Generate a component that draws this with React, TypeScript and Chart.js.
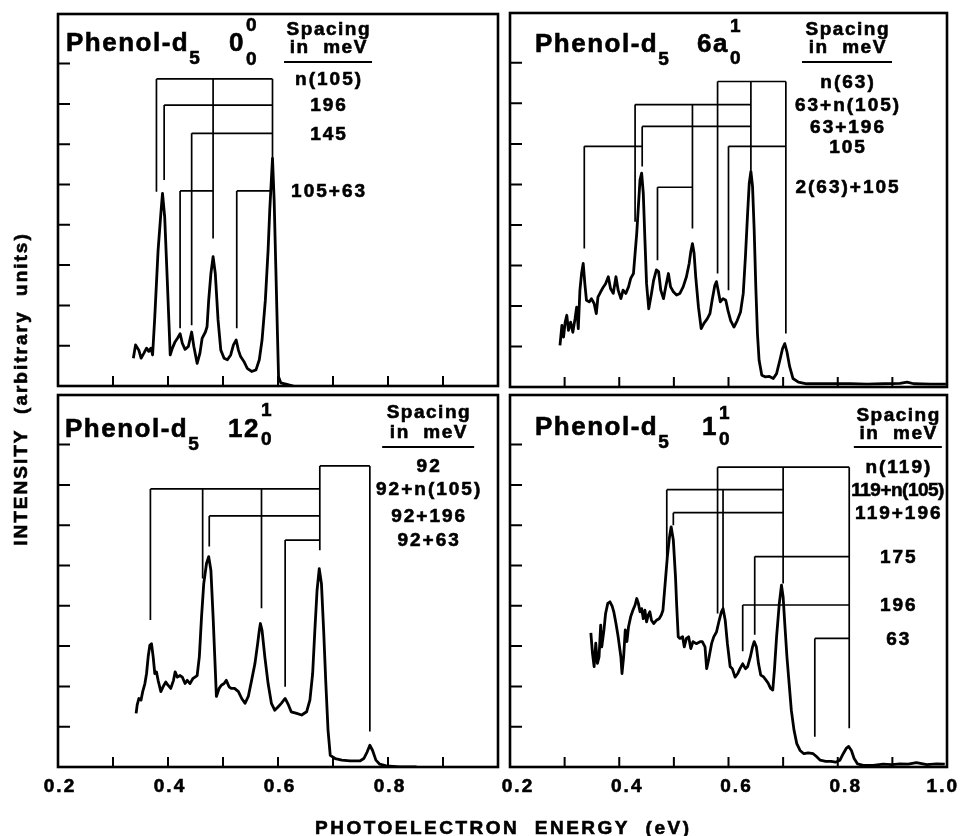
import React, { useEffect, useRef } from "react";
import { Chart, registerables } from "chart.js";

Chart.register(...registerables);

// ---------------- data ----------------
const xTickValues = [0.3, 0.4, 0.5, 0.6, 0.7, 0.8, 0.9];
const yTickValues = [1, 2, 3, 4, 5, 6, 7, 8];
const xLabelValuesLeft = [0.2, 0.4, 0.6, 0.8];
const xLabelTextsLeft = ["0.2", "0.4", "0.6", "0.8"];
const xLabelValuesRight = [0.2, 0.4, 0.6, 0.8, 1.0];
const xLabelTextsRight = ["0.2", "0.4", "0.6", "0.8", "1.0"];

// Panel 0-0-0
const tlEnergy = [
  0.337, 0.341, 0.347, 0.351, 0.356, 0.361, 0.365, 0.369, 0.372, 0.376,
  0.382, 0.387, 0.39, 0.394, 0.399, 0.404, 0.408, 0.413, 0.417, 0.422,
  0.426, 0.431, 0.437, 0.443, 0.447, 0.453, 0.458, 0.462, 0.468, 0.471,
  0.474, 0.478, 0.482, 0.486, 0.491, 0.496, 0.502, 0.508, 0.514, 0.519,
  0.524, 0.528, 0.532, 0.538, 0.544, 0.552, 0.56, 0.566, 0.571, 0.577,
  0.582, 0.585, 0.59, 0.593, 0.596, 0.599, 0.601, 0.605, 0.616, 0.628,
];
const tlIntensity = [
  0.69, 1.02, 0.89, 0.69, 0.81, 0.94, 0.86, 0.94, 0.77, 1.72,
  3.37, 4.28, 4.78, 4.19, 2.52, 0.77, 0.94, 1.1, 1.18, 1.3,
  1.06, 0.91, 0.98, 1.34, 0.98, 0.56, 0.81, 1.18, 1.34, 1.47,
  2.13, 2.79, 3.21, 2.79, 1.64, 0.89, 0.69, 0.65, 0.77, 1.02,
  1.14, 0.89, 0.73, 0.61, 0.44, 0.36, 0.4, 0.65, 1.14, 2.13,
  3.37, 4.36, 5.65, 4.61, 2.96, 1.3, 0.23, 0.08, 0.04, 0.0,
];
const tlBrackets: [number, number, number, [number, number][]][] = [
  [7.62, 0.379, 0.59, [[0.379, 4.82], [0.482, 3.66], [0.59, 5.6]]],
  [6.97, 0.393, 0.59, [[0.393, 5.11]]],
  [6.27, 0.443, 0.59, [[0.443, 1.51]]],
  [4.84, 0.422, 0.482, [[0.422, 1.43]]],
  [4.84, 0.525, 0.588, [[0.525, 1.43]]],
];
const tlSpacingLabels = ["n(105)", "196", "145", "105+63"];
const tlSpacingLevels = [7.62, 6.97, 6.27, 4.84];

// Panel 6a
const trEnergy = [
  0.2915, 0.295, 0.298, 0.301, 0.304, 0.307, 0.311, 0.315, 0.319, 0.322,
  0.325, 0.328, 0.331, 0.334, 0.337, 0.34, 0.345, 0.349, 0.354, 0.358,
  0.361, 0.366, 0.371, 0.375, 0.38, 0.384, 0.389, 0.394, 0.398, 0.403,
  0.407, 0.412, 0.417, 0.421, 0.426, 0.429, 0.432, 0.435, 0.438, 0.441,
  0.444, 0.447, 0.45, 0.454, 0.459, 0.463, 0.468, 0.472, 0.476, 0.481,
  0.485, 0.49, 0.494, 0.499, 0.505, 0.511, 0.517, 0.523, 0.528, 0.531,
  0.534, 0.537, 0.54, 0.545, 0.55, 0.555, 0.561, 0.566, 0.57, 0.575,
  0.578, 0.581, 0.585, 0.59, 0.595, 0.599, 0.604, 0.61, 0.616, 0.622,
  0.627, 0.631, 0.635, 0.638, 0.641, 0.644, 0.647, 0.65, 0.653, 0.656,
  0.661, 0.667, 0.675, 0.682, 0.688, 0.694, 0.699, 0.703, 0.707, 0.712,
  0.718, 0.728, 0.743, 0.768, 0.792, 0.823, 0.854, 0.884, 0.914, 0.927, 0.939,
  0.97, 0.998,
];
const trIntensity = [
  1.03, 1.52, 1.23, 1.6, 1.77, 1.4, 1.6, 1.35, 1.68, 1.97,
  1.44, 2.39, 2.8, 3.05, 2.55, 2.14, 2.1, 2.18, 2.06, 1.81,
  2.22, 2.35, 2.47, 2.55, 2.72, 2.43, 2.31, 2.72, 2.39, 2.18,
  2.39, 2.31, 2.47, 2.68, 2.8, 3.3, 3.79, 4.45, 5.11, 5.28,
  4.78, 3.63, 2.55, 1.93, 2.31, 2.64, 2.89, 2.85, 2.39, 2.18,
  2.47, 2.8, 2.47, 2.35, 2.27, 2.31, 2.47, 2.72, 3.05, 3.34,
  3.54, 3.3, 2.72, 1.97, 1.44, 1.57, 1.68, 1.81, 2.14, 2.51,
  2.6, 2.39, 2.1, 2.18, 2.14, 1.89, 1.64, 1.48, 1.64, 1.85,
  2.31, 3.22, 4.29, 5.03, 5.32, 4.95, 3.88, 2.47, 1.32, 0.66,
  0.29, 0.25, 0.26, 0.21, 0.33, 0.66, 0.95, 1.07, 0.87, 0.5,
  0.21, 0.12, 0.08, 0.08, 0.08, 0.08, 0.07, 0.08, 0.09, 0.12, 0.08,
  0.07, 0.07,
];
const trBrackets: [number, number, number, [number, number][]][] = [
  [7.54, 0.58, 0.705, [[0.58, 2.8], [0.641, 5.35], [0.705, 1.32]]],
  [6.97, 0.429, 0.641, [[0.429, 4.08], [0.534, 3.91]]],
  [6.43, 0.442, 0.641, [[0.442, 5.44]]],
  [5.94, 0.336, 0.442, [[0.336, 3.42]]],
  [5.94, 0.6, 0.705, [[0.6, 2.39]]],
  [4.93, 0.47, 0.534, [[0.47, 3.13]]],
];
const trSpacingLabels = ["n(63)", "63+n(105)", "63+196", "105", "2(63)+105"];
const trSpacingLevels = [7.54, 6.97, 6.43, 5.94, 4.93];

// Panel 12
const blEnergy = [
  0.342, 0.344, 0.347, 0.351, 0.354, 0.358, 0.361, 0.364, 0.367, 0.37,
  0.373, 0.376, 0.379, 0.382, 0.387, 0.391, 0.396, 0.4, 0.405, 0.41,
  0.413, 0.417, 0.422, 0.426, 0.431, 0.435, 0.44, 0.445, 0.449, 0.453,
  0.457, 0.461, 0.465, 0.47, 0.474, 0.478, 0.482, 0.485, 0.488, 0.493,
  0.497, 0.502, 0.506, 0.511, 0.515, 0.521, 0.528, 0.534, 0.54, 0.546,
  0.552, 0.558, 0.563, 0.566, 0.568, 0.571, 0.576, 0.582, 0.588, 0.594,
  0.6, 0.606, 0.613, 0.619, 0.624, 0.634, 0.643, 0.652, 0.658, 0.663,
  0.667, 0.671, 0.675, 0.679, 0.683, 0.687, 0.691, 0.695, 0.704, 0.716,
  0.731, 0.749, 0.756, 0.762, 0.767, 0.772, 0.778, 0.785, 0.797, 0.821,
  0.852,
];
const blIntensity = [
  1.33, 1.54, 1.7, 1.66, 1.87, 2.07, 2.32, 2.74, 3.02, 3.06,
  2.74, 2.32, 2.36, 2.15, 1.87, 1.99, 2.11, 2.03, 1.95, 2.15,
  2.36, 2.23, 2.27, 2.23, 2.07, 2.15, 2.07, 2.19, 2.23, 2.27,
  2.74, 3.73, 4.55, 5.05, 5.22, 4.88, 3.73, 2.74, 1.75, 1.95,
  2.03, 2.07, 2.15, 1.99, 1.95, 1.95, 1.87, 1.7, 1.58, 1.75,
  2.15, 2.56, 3.06, 3.39, 3.56, 3.39, 2.74, 2.07, 1.58, 1.41,
  1.49, 1.58, 1.7, 1.54, 1.37, 1.33, 1.29, 1.37, 1.66, 2.32,
  3.39, 4.38, 4.92, 4.55, 3.39, 2.07, 0.91, 0.29, 0.21, 0.17,
  0.15, 0.15, 0.21, 0.37, 0.54, 0.41, 0.17, 0.07, 0.03, 0.0,
  0.0,
];
const blBrackets: [number, number, number, [number, number][]][] = [
  [7.47, 0.676, 0.767, [[0.676, 5.38], [0.767, 0.88]]],
  [6.9, 0.368, 0.676, [[0.368, 3.65], [0.463, 4.68], [0.57, 3.94]]],
  [6.23, 0.475, 0.676, [[0.475, 5.47]]],
  [5.63, 0.613, 0.676, [[0.613, 1.99]]],
];
const blSpacingLabels = ["92", "92+n(105)", "92+196", "92+63"];
const blSpacingLevels = [7.47, 6.9, 6.23, 5.63];

// Panel 1
const brEnergy = [
  0.348, 0.351, 0.354, 0.357, 0.36, 0.363, 0.366, 0.368, 0.372, 0.375,
  0.379, 0.383, 0.387, 0.39, 0.394, 0.398, 0.403, 0.405, 0.408, 0.411,
  0.414, 0.417, 0.421, 0.425, 0.429, 0.432, 0.435, 0.438, 0.441, 0.444,
  0.447, 0.45, 0.453, 0.456, 0.459, 0.463, 0.468, 0.473, 0.477, 0.48,
  0.484, 0.488, 0.492, 0.495, 0.499, 0.503, 0.505, 0.508, 0.511, 0.516,
  0.519, 0.523, 0.527, 0.531, 0.535, 0.541, 0.548, 0.552, 0.557, 0.56,
  0.564, 0.569, 0.573, 0.578, 0.583, 0.587, 0.59, 0.594, 0.598, 0.603,
  0.607, 0.612, 0.617, 0.621, 0.626, 0.631, 0.635, 0.64, 0.644, 0.647,
  0.651, 0.655, 0.659, 0.664, 0.669, 0.673, 0.677, 0.681, 0.684, 0.688,
  0.693, 0.697, 0.7, 0.703, 0.707, 0.711, 0.715, 0.72, 0.725, 0.731,
  0.738, 0.746, 0.755, 0.761, 0.768, 0.778, 0.788, 0.796, 0.804, 0.81,
  0.816, 0.82, 0.825, 0.83, 0.836, 0.847, 0.865, 0.883, 0.899, 0.914,
  0.929, 0.944, 0.963, 0.981, 0.996,
];
const brIntensity = [
  3.33, 2.82, 2.49, 3.07, 2.57, 2.73, 3.52, 2.98, 3.4, 3.81,
  4.06, 4.1, 3.99, 3.85, 3.56, 3.23, 2.73, 2.32, 2.73, 3.4,
  3.11, 3.48, 3.73, 3.89, 4.02, 4.18, 4.06, 3.85, 3.93, 3.68,
  3.89, 3.6, 3.77, 3.85, 3.64, 3.56, 3.64, 3.68, 3.77, 3.89,
  4.55, 5.21, 5.71, 5.96, 5.63, 4.71, 4.05, 3.23, 3.19, 3.23,
  2.98, 3.19, 3.23, 2.94, 3.11, 3.06, 3.11, 3.11, 2.98, 2.44,
  2.69, 3.06, 3.23, 3.35, 3.64, 3.85, 3.93, 3.64, 3.06, 2.49,
  2.44, 2.23, 2.32, 2.44, 2.56, 2.44, 2.49, 2.73, 2.98, 3.11,
  2.98, 2.56, 2.28, 2.24, 2.15, 2.07, 1.95, 1.91, 2.4, 3.23,
  4.06, 4.51, 4.22, 3.56, 2.73, 2.07, 1.41, 0.91, 0.58, 0.41,
  0.33, 0.35, 0.33, 0.26, 0.17, 0.14, 0.14, 0.12, 0.17, 0.33,
  0.47, 0.51, 0.41, 0.21, 0.08, 0.04, 0.04, 0.07, 0.06, 0.08,
  0.07, 0.11, 0.06, 0.08, 0.07,
];
const brBrackets: [number, number, number, [number, number][]][] = [
  [7.44, 0.58, 0.821, [[0.58, 3.81], [0.7, 4.55], [0.821, 0.96]]],
  [6.88, 0.487, 0.7, [[0.487, 5.18], [0.59, 3.94]]],
  [6.31, 0.499, 0.7, [[0.499, 6.0]]],
  [5.22, 0.648, 0.821, [[0.648, 3.28]]],
  [4.02, 0.626, 0.821, [[0.626, 2.87]]],
  [3.19, 0.758, 0.821, [[0.758, 0.75]]],
];
const brSpacingLabels = ["n(119)", "119+n(105)", "119+196", "175", "196", "63"];
const brSpacingLevels = [7.44, 6.88, 6.31, 5.22, 4.02, 3.19];

const X_MIN = 0.2;
const X_MAX = 1.0;
const Y_MAX = 9.23;

// ---------------- layout ----------------
const PAGE_W = 960;
const PAGE_H = 836;
const FONT = '"Liberation Sans", Arial, Helvetica, sans-serif';

type Cfg = {
  key: string;
  box: { l: number; t: number; r: number; b: number };
  energy: number[];
  intensity: number[];
  brackets: [number, number, number, [number, number][]][];
  labels: string[];
  levels: number[];
  labelX: number;
  state: [string, string, string];
  titleX: number;
  titleBase: number;
  stateX: number;
  supBase: number;
  subBase: number;
  headBases: [number, number];
  ruleY: number;
  ruleHalf: number;
  xLabelValues: number[] | null;
  xLabelTexts: string[] | null;
  xLabelShift: number;
  axisTitles: boolean;
};

const panels: Cfg[] = [
  {
    key: "tl", box: { l: 58, t: 14, r: 498, b: 386 },
    energy: tlEnergy, intensity: tlIntensity, brackets: tlBrackets,
    labels: tlSpacingLabels, levels: tlSpacingLevels, labelX: 0.691,
    state: ["0", "0", "0"], titleX: 66, titleBase: 51, stateX: 229, supBase: 31, subBase: 65,
    headBases: [35, 53], ruleY: 62, ruleHalf: 44,
    xLabelValues: null, xLabelTexts: null, xLabelShift: 0, axisTitles: false,
  },
  {
    key: "tr", box: { l: 510, t: 13, r: 947, b: 387 },
    energy: trEnergy, intensity: trIntensity, brackets: trBrackets,
    labels: trSpacingLabels, levels: trSpacingLevels, labelX: 0.817,
    state: ["6a", "1", "0"], titleX: 535, titleBase: 52, stateX: 697, supBase: 32, subBase: 64,
    headBases: [35, 53], ruleY: 62, ruleHalf: 45,
    xLabelValues: null, xLabelTexts: null, xLabelShift: 0, axisTitles: false,
  },
  {
    key: "bl", box: { l: 58, t: 395, r: 498, b: 767 },
    energy: blEnergy, intensity: blIntensity, brackets: blBrackets,
    labels: blSpacingLabels, levels: blSpacingLevels, labelX: 0.873,
    state: ["12", "1", "0"], titleX: 65, titleBase: 437, stateX: 228, supBase: 416, subBase: 445,
    headBases: [418, 438], ruleY: 447, ruleHalf: 46,
    xLabelValues: xLabelValuesLeft, xLabelTexts: xLabelTextsLeft, xLabelShift: 1, axisTitles: true,
  },
  {
    key: "br", box: { l: 510, t: 395, r: 947, b: 767 },
    energy: brEnergy, intensity: brIntensity, brackets: brBrackets,
    labels: brSpacingLabels, levels: brSpacingLevels, labelX: 0.91,
    state: ["1", "1", "0"], titleX: 535, titleBase: 435, stateX: 702, supBase: 419, subBase: 445,
    headBases: [421, 439], ruleY: 447, ruleHalf: 44,
    xLabelValues: xLabelValuesRight, xLabelTexts: xLabelTextsRight, xLabelShift: 7, axisTitles: false,
  },
];

function setFont(ctx: CanvasRenderingContext2D, size: number, ls: number) {
  ctx.font = `bold ${size}px ${FONT}`;
  (ctx as any).letterSpacing = `${ls}px`;
}

function textW(ctx: CanvasRenderingContext2D, s: string) {
  return ctx.measureText(s).width;
}

function fillBold(ctx: CanvasRenderingContext2D, s: string, x: number, y: number) {
  ctx.fillText(s, x, y);
  ctx.lineWidth = 0.6;
  ctx.strokeText(s, x, y);
}

function textCenter(ctx: CanvasRenderingContext2D, s: string, cx: number, y: number, size: number, ls: number, maxRight = 1e9) {
  setFont(ctx, size, ls);
  const w = textW(ctx, s) - ls;
  let left = cx - w / 2;
  if (left + w > maxRight) left = maxRight - w;
  ctx.textAlign = "left";
  fillBold(ctx, s, left, y);
}

function buildBracketPoints(brackets: Cfg["brackets"]) {
  const pts: { x: number; y: number | null }[] = [];
  for (const [level, from, to, teeth] of brackets) {
    pts.push({ x: from, y: level }, { x: to, y: level }, { x: to, y: null });
    for (const [tx, tb] of teeth) {
      pts.push({ x: tx, y: level }, { x: tx, y: tb }, { x: tx, y: null });
    }
  }
  return pts;
}

function decorPlugin(cfg: Cfg) {
  return {
    id: "decor_" + cfg.key,
    afterDraw(chart: any) {
      const ctx: CanvasRenderingContext2D = chart.ctx;
      const a = chart.chartArea;
      const xs = chart.scales.x;
      const ys = chart.scales.y;
      ctx.save();
      ctx.strokeStyle = "#000";
      ctx.fillStyle = "#000";
      ctx.textBaseline = "alphabetic";

      // frame
      ctx.lineWidth = 2.6;
      ctx.strokeRect(a.left, a.top, a.right - a.left, a.bottom - a.top);

      // inward ticks
      ctx.lineWidth = 2;
      ctx.beginPath();
      for (const v of xTickValues) {
        const px = xs.getPixelForValue(v);
        ctx.moveTo(px, a.bottom);
        ctx.lineTo(px, a.bottom - 10);
      }
      for (const v of yTickValues) {
        const py = ys.getPixelForValue(v);
        ctx.moveTo(a.left, py);
        ctx.lineTo(a.left + 12, py);
      }
      ctx.stroke();

      // x tick labels
      if (cfg.xLabelValues && cfg.xLabelTexts) {
        cfg.xLabelValues.forEach((v, i) => {
          textCenter(ctx, cfg.xLabelTexts![i], xs.getPixelForValue(v) + cfg.xLabelShift, a.bottom + 25, 19, 2, 957);
        });
      }

      // panel title: Phenol-d5  state
      setFont(ctx, 26, 1.5);
      ctx.textAlign = "left";
      const t1 = "Phenol-d";
      fillBold(ctx, t1, cfg.titleX, cfg.titleBase);
      const w1 = textW(ctx, t1);
      setFont(ctx, 19, 0);
      fillBold(ctx, "5", cfg.titleX + w1, cfg.titleBase + 13);

      setFont(ctx, 26, 1.5);
      fillBold(ctx, cfg.state[0], cfg.stateX, cfg.titleBase);
      const ws = textW(ctx, cfg.state[0]);
      setFont(ctx, 19, 0);
      fillBold(ctx, cfg.state[1], cfg.stateX + ws + 1, cfg.supBase);
      fillBold(ctx, cfg.state[2], cfg.stateX + ws + 1, cfg.subBase);

      // header
      const hx = xs.getPixelForValue(cfg.labelX);
      textCenter(ctx, "Spacing", hx, cfg.headBases[0], 19, 1.5);
      textCenter(ctx, "in  meV", hx, cfg.headBases[1], 19, 1.5);
      ctx.lineWidth = 2;
      ctx.beginPath();
      ctx.moveTo(hx - cfg.ruleHalf, cfg.ruleY);
      ctx.lineTo(hx + cfg.ruleHalf, cfg.ruleY);
      ctx.stroke();

      // spacing labels at the bracket levels
      ctx.textBaseline = "middle";
      cfg.labels.forEach((s, i) => {
        const ls = s.length > 9 ? -0.5 : 2;
        textCenter(ctx, s, hx, ys.getPixelForValue(cfg.levels[i]) + 1, 19, ls, 947);
      });
      ctx.textBaseline = "alphabetic";

      if (cfg.axisTitles) {
        textCenter(ctx, "PHOTOELECTRON  ENERGY  (eV)", 502, 834, 19, 2.5);
        ctx.save();
        ctx.translate(27, 390);
        ctx.rotate(-Math.PI / 2);
        textCenter(ctx, "INTENSITY  (arbitrary  units)", 0, 0, 19, 2);
        ctx.restore();
      }
      ctx.restore();
    },
  };
}

function Panel({ cfg }: { cfg: Cfg }) {
  const ref = useRef<HTMLCanvasElement | null>(null);
  useEffect(() => {
    const canvas = ref.current!;
    const n = Math.min(cfg.energy.length, cfg.intensity.length);
    const spectrum = [] as { x: number; y: number }[];
    for (let i = 0; i < n; i++) spectrum.push({ x: cfg.energy[i], y: cfg.intensity[i] });
    const chart = new Chart(canvas, {
      type: "line",
      data: {
        datasets: [
          {
            data: spectrum as any,
            borderColor: "#000",
            borderWidth: 2.8,
            pointRadius: 0,
            tension: 0,
            fill: false,
            borderJoinStyle: "round",
          },
          {
            data: buildBracketPoints(cfg.brackets) as any,
            borderColor: "#000",
            borderWidth: 1.7,
            pointRadius: 0,
            tension: 0,
            fill: false,
            spanGaps: false,
          },
        ],
      },
      options: {
        animation: false,
        responsive: false,
        events: [],
        layout: {
          padding: {
            left: cfg.box.l,
            top: cfg.box.t,
            right: PAGE_W - cfg.box.r,
            bottom: PAGE_H - cfg.box.b,
          },
        },
        scales: {
          x: { type: "linear", min: X_MIN, max: X_MAX, display: false },
          y: { type: "linear", min: 0, max: Y_MAX, display: false },
        },
        plugins: { legend: { display: false }, tooltip: { enabled: false } },
      },
      plugins: [decorPlugin(cfg)],
    });
    return () => chart.destroy();
  }, [cfg]);
  return (
    <canvas
      ref={ref}
      width={PAGE_W}
      height={PAGE_H}
      style={{ position: "absolute", left: 0, top: 0, width: PAGE_W, height: PAGE_H }}
    />
  );
}

export default function App() {
  return (
    <div
      style={{
        position: "absolute",
        left: 0,
        top: 0,
        width: PAGE_W,
        height: PAGE_H,
        background: "#fff",
        overflow: "hidden",
      }}
    >
      {panels.map((p) => (
        <Panel key={p.key} cfg={p} />
      ))}
    </div>
  );
}
